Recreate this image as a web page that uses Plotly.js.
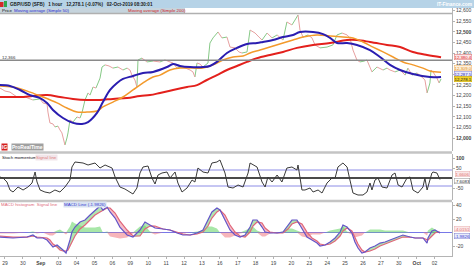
<!DOCTYPE html>
<html><head><meta charset="utf-8">
<script src="https://cdn.plot.ly/plotly-3.0.1.min.js"></script>
<style>html,body{margin:0;padding:0;background:#fff}#chart{width:474px;height:266px}</style>
</head><body><div id="chart"></div>
<script>
// ---- DATA (x = trading-day position, 0 = 29 Aug 00:00) ----
const dayLabels = ['29','30','Sep','03','04','05','06','09','10','11','12','13','16','17','18','19','20','23','24','25','26','27','30','Oct','02'];
const dayPos = [0,1,2,3,4,5,6,7,8,9,10,11,12,13,14,15,16,17,18,19,20,21,22,23,24];

const priceT = [-0.28,0,0.28,0.67,1.12,1.56,1.96,2.12,2.35,2.40,2.51,2.68,2.79,2.96,3.07,3.18,3.35,3.46,3.52,3.63,3.80,4.02,4.19,4.30,4.47,4.64,4.75,4.92,5.08,5.20,5.31,5.42,5.59,5.81,6.03,6.31,6.59,6.82,6.98,7.09,7.26,7.37,7.43,7.65,7.93,8.27,8.66,8.94,9.22,9.39,9.61,9.94,10.34,10.50,10.61,10.73,10.89,11.06,11.34,11.45,11.62,11.90,12.12,12.40,12.57,12.85,13.07,13.24,13.52,13.69,13.97,14.19,14.36,14.64,14.92,15.20,15.53,15.75,16.03,16.20,16.37,16.48,16.65,16.93,17.15,17.32,17.60,17.99,18.32,18.55,18.83,19.11,19.27,19.44,19.66,19.83,20.06,20.22,20.50,20.78,21.12,21.34,21.51,21.79,22.07,22.35,22.51,22.74,23.02,23.35,23.46,23.58,23.74,23.80,23.91,24.13,24.25,24.36];
const priceClose = [12235,12221,12216,12193,12193,12179,12184,12165,12160,12122,12071,12066,12052,12056,12038,12024,11967,12000,12024,12085,12075,12099,12094,12118,12179,12212,12202,12240,12235,12259,12282,12334,12344,12339,12329,12334,12320,12329,12320,12296,12273,12240,12367,12376,12358,12362,12358,12367,12358,12353,12329,12334,12320,12311,12287,12353,12348,12334,12353,12447,12471,12499,12471,12475,12428,12424,12405,12400,12405,12508,12494,12475,12461,12494,12471,12485,12461,12546,12532,12555,12579,12508,12475,12485,12471,12438,12424,12428,12438,12485,12494,12485,12471,12414,12367,12358,12362,12367,12311,12334,12320,12329,12320,12311,12320,12296,12329,12296,12306,12282,12273,12212,12259,12320,12311,12282,12259,12278];

const ma50T = [-0.28,0.28,0.84,1.40,1.96,2.35,2.68,3.24,3.80,4.30,4.64,5.14,5.47,5.87,6.26,6.59,7.15,7.71,8.27,9.05,9.39,9.78,10.34,11.06,11.45,11.84,12.40,12.96,13.52,14.08,14.41,14.97,15.53,16.09,16.48,17.21,17.77,18.16,18.55,19.11,19.66,20.39,20.95,21.51,22.07,22.79,23.74,24.36];
const ma50 = [12249,12245,12226,12202,12188,12165,12132,12094,12071,12066,12075,12118,12169,12226,12259,12278,12292,12306,12311,12334,12348,12339,12334,12334,12339,12358,12400,12424,12442,12447,12452,12461,12475,12485,12499,12499,12489,12471,12447,12447,12438,12414,12381,12344,12320,12301,12287,12287.5];

const ma100T = [-0.28,0.45,1.40,2.12,2.91,3.46,4.02,4.58,5.14,5.47,6.03,6.59,7.15,7.71,8.27,8.66,9.22,9.78,10.50,11.06,11.62,12.18,12.74,13.30,13.69,14.25,14.80,15.53,16.09,16.65,17.43,18.16,18.88,19.44,20.00,20.56,21.12,21.68,22.23,22.79,23.35,23.74,24.36];
const ma100 = [12245,12240,12216,12193,12165,12141,12122,12122,12127,12146,12169,12193,12226,12259,12287,12296,12320,12329,12329,12329,12344,12367,12381,12386,12400,12414,12428,12447,12461,12475,12485,12480,12475,12471,12452,12428,12405,12381,12358,12344,12329,12315,12309];

const ma200T = [-0.28,0.84,1.56,2.35,3.07,3.80,4.58,5.31,6.03,6.82,7.54,8.10,8.66,9.39,10.17,10.73,11.28,11.84,12.40,12.96,13.52,14.08,14.80,15.53,16.31,17.21,18.16,19.11,19.66,20.39,21.34,22.07,22.79,23.58,24.36];
const ma200 = [12193,12193,12198,12202,12193,12184,12179,12179,12184,12188,12198,12202,12212,12226,12240,12249,12273,12296,12320,12339,12358,12376,12391,12405,12424,12438,12447,12461,12461,12452,12438,12428,12405,12391,12380.4];

const stochT = [-0.28,-0.11,0.11,0.28,0.45,0.73,1.01,1.28,1.51,1.68,1.79,1.96,2.23,2.51,2.79,3.07,3.35,3.63,3.74,3.91,4.36,4.64,5.03,5.31,5.59,5.98,6.15,6.42,6.70,6.98,7.15,7.37,7.54,7.71,7.99,8.21,8.38,8.55,8.77,9.05,9.22,9.50,9.66,9.89,10.17,10.45,10.61,10.78,11.06,11.34,11.56,11.84,12.01,12.29,12.46,12.74,13.02,13.30,13.58,13.69,14.08,14.36,14.53,14.69,14.92,15.20,15.47,15.75,16.03,16.31,16.37,16.59,16.76,17.04,17.21,17.49,17.71,17.99,18.27,18.44,18.60,18.88,19.11,19.27,19.44,19.72,20.00,20.22,20.39,20.50,20.67,20.84,21.06,21.34,21.62,21.79,21.96,22.18,22.46,22.63,22.79,23.07,23.35,23.46,23.58,23.69,23.85,23.91,24.13,24.30];
const stochVal = [5,0,-20,-60,-70,-45,-60,-45,-25,30,-20,-60,-70,-75,-60,-70,-45,-10,55,80,75,65,75,50,65,50,5,-45,-55,-70,-80,-50,25,55,60,0,-30,15,25,30,0,30,-25,-70,-50,-10,-20,50,30,25,75,80,90,25,-45,-50,-35,-45,25,75,55,-20,-45,5,-20,15,-20,50,55,40,65,-60,-60,-50,-70,-60,-75,-25,0,0,55,75,55,-10,-75,-85,-85,-70,-25,-60,-10,0,-45,-50,15,25,-35,-45,0,5,-60,-75,-45,0,-60,-25,25,30,25,-7.6];

const macdT = [-0.28,0.45,1.23,1.56,1.79,2.12,2.35,2.51,2.68,2.91,3.07,3.24,3.41,3.52,3.63,3.74,3.91,4.19,4.47,4.75,5.03,5.31,5.47,5.70,5.87,6.15,6.42,6.82,7.15,7.54,7.82,8.10,8.38,8.83,9.22,9.61,9.94,10.34,10.73,11.06,11.34,11.56,11.84,12.01,12.29,12.57,12.85,13.13,13.41,13.69,13.85,14.08,14.36,14.53,14.80,15.20,15.53,15.81,16.03,16.31,16.59,16.87,17.15,17.43,17.60,17.88,18.16,18.44,18.72,18.88,19.11,19.38,19.55,19.72,19.94,20.11,20.39,20.67,20.95,21.23,21.51,21.90,22.23,22.63,22.91,23.35,23.58,23.63,23.85,24.02,24.19,24.30];
const macdLine = [-6.7,-8.1,-6.7,-3.7,-8.1,-8.1,-11.1,-15.6,-21.5,-18.5,-21.5,-25.9,-30.4,-21.5,-11.1,0.7,8.1,15.6,18.5,25.9,33.3,39.3,33.3,37.8,30.4,21.5,8.1,-3.7,-6.7,3.7,15.6,11.1,6.7,5.2,3.7,-0.7,-3.7,-3.7,-0.7,3.7,18.5,30.4,36.3,33.3,18.5,3.7,-3.7,-6.7,-3.7,8.1,18.5,18.5,8.1,0.7,-0.7,-0.7,0.7,11.1,18.5,18.5,6.7,-6.7,-11.1,-15.6,-20,-18.5,-14.1,-8.1,0.7,11.1,8.1,-0.7,-14.1,-23.0,-30.4,-28.9,-23.0,-20,-15.6,-14.1,-11.1,-6.7,-3.7,-6.7,-8.1,-8.1,-15.6,-8.1,2.2,3.7,0.7,-0.7];
const signalLine = [-5.2,-6.7,-6.7,-5.2,-6.7,-8.1,-8.1,-11.1,-17.0,-21.5,-25.9,-27.4,-27.4,-25.9,-20,-15.6,-5.2,5.2,11.1,18.5,25.9,30.4,33.3,36.3,36.3,28.9,17.0,3.7,-5.2,-5.2,5.2,9.6,9.6,5.2,3.7,0.7,-2.2,-3.7,-2.2,0.7,9.6,21.5,30.4,33.3,25.9,11.1,0.7,-5.2,-6.7,0.7,9.6,15.6,14.1,6.7,0.7,-0.7,-0.7,5.2,12.6,15.6,12.6,0.7,-8.1,-12.6,-17.0,-18.5,-17.0,-12.6,-5.2,2.2,6.7,2.2,-6.7,-17.0,-25.9,-28.9,-27.4,-24.4,-20,-17.0,-14.1,-9.6,-6.7,-6.7,-8.1,-8.1,-11.1,-11.1,-5.2,-0.7,0.7,0.7];

const priceTicks = [12000,12050,12100,12150,12200,12250,12300,12350,12400,12450,12500,12550,12600];
const refLevel = 12366;

// ---- BUILD ----
const upX=[],upY=[],dnX=[],dnY=[];
for(let i=1;i<Math.min(priceT.length,priceClose.length);i++){
  const up = priceClose[i]>=priceClose[i-1];
  (up?upX:dnX).push(priceT[i-1],priceT[i],null);
  (up?upY:dnY).push(priceClose[i-1],priceClose[i],null);
}
const hist = macdLine.map((v,i)=>v-signalLine[i]);
const histPos = hist.map(v=>Math.max(v,0));
const histNeg = hist.map(v=>Math.min(v,0));
const bandHi = macdLine.map((v,i)=>Math.max(v,signalLine[i]));
const bandLo = macdLine.map((v,i)=>Math.min(v,signalLine[i]));

const noLine = {width:0,color:'rgba(0,0,0,0)'};
const traces = [
  {x:upX,y:upY,type:'scatter',mode:'lines',line:{color:'#86c986',width:1},yaxis:'y',hoverinfo:'skip'},
  {x:dnX,y:dnY,type:'scatter',mode:'lines',line:{color:'#e7a0a0',width:1},yaxis:'y',hoverinfo:'skip'},
  {x:ma200T,y:ma200,type:'scatter',mode:'lines',line:{color:'#e3201c',width:2,shape:'spline'},yaxis:'y'},
  {x:ma100T,y:ma100,type:'scatter',mode:'lines',line:{color:'#f39a2c',width:1.5,shape:'spline'},yaxis:'y'},
  {x:ma50T,y:ma50,type:'scatter',mode:'lines',line:{color:'#2a1db0',width:2,shape:'spline'},yaxis:'y'},

  {x:stochT,y:stochVal,type:'scatter',mode:'lines',line:{color:'#3a3a3a',width:1},yaxis:'y2'},

  {x:macdT,y:macdLine,type:'scatter',mode:'lines',line:noLine,yaxis:'y3'},
  {x:macdT,y:bandHi,type:'scatter',mode:'lines',line:noLine,fill:'tonexty',fillcolor:'rgba(236,110,130,0.45)',yaxis:'y3'},
  {x:macdT,y:macdLine,type:'scatter',mode:'lines',line:noLine,yaxis:'y3'},
  {x:macdT,y:bandLo,type:'scatter',mode:'lines',line:noLine,fill:'tonexty',fillcolor:'rgba(80,200,80,0.45)',yaxis:'y3'},
  {x:macdT,y:histPos,type:'scatter',mode:'lines',line:noLine,fill:'tozeroy',fillcolor:'rgba(110,215,110,0.6)',yaxis:'y3'},
  {x:macdT,y:histNeg,type:'scatter',mode:'lines',line:noLine,fill:'tozeroy',fillcolor:'rgba(240,120,130,0.55)',yaxis:'y3'},
  {x:macdT,y:signalLine,type:'scatter',mode:'lines',line:{color:'#e0667a',width:1.2},yaxis:'y3'},
  {x:macdT,y:macdLine,type:'scatter',mode:'lines',line:{color:'#6454c8',width:1.2},yaxis:'y3'}
];

const W=452, H=256;
const px=v=>v/W, py=v=>1-v/H;
const FONT='Liberation Sans, Arial, sans-serif';
function ann(text,x,y,o){
  o=o||{};
  return Object.assign({xref:'paper',yref:'paper',x:px(x),y:py(y),xanchor:'left',yanchor:'middle',
    text:text,showarrow:false,borderpad:0,font:{family:FONT,size:o.size||5,color:o.color||'#222'}},o.extra||{});
}
const axBase = {showgrid:false,zeroline:false,showline:true,linecolor:'#b4b4b4',linewidth:1,
  ticks:'outside',ticklen:2,tickcolor:'#b4b4b4',side:'right',anchor:'x',fixedrange:true,
  tickfont:{family:FONT,size:5,color:'#444'}};

const layout = {
  width:474,height:266,margin:{l:0,r:22,t:0,b:10,pad:0},
  paper_bgcolor:'#fff',plot_bgcolor:'#fff',showlegend:false,hovermode:false,
  font:{family:FONT,size:5},
  xaxis:{domain:[0,1],range:[-0.279,24.972],anchor:'y3',showgrid:false,zeroline:false,showline:true,
    linecolor:'#b4b4b4',ticks:'outside',ticklen:2,tickcolor:'#b4b4b4',fixedrange:true,
    tickvals:dayPos,ticktext:dayLabels.map(s=>(s==='Sep'||s==='Oct')?'<b>'+s+'</b>':s),
    tickfont:{family:FONT,size:5,color:'#444'},tickangle:0},
  yaxis:Object.assign({},axBase,{domain:[py(151),py(8)],range:[11938.8,12611.8],
    tickvals:priceTicks,ticktext:priceTicks.map(v=>{const s=String(v).replace(/(\d{2})(\d{3})/,'$1,$2');return (v%500===0)?'<b>'+s+'</b>':s;})}),
  yaxis2:Object.assign({},axBase,{domain:[py(200),py(154)],range:[-110,120],
    tickvals:[100,50,-50],ticktext:['<b>100</b>','50','-50']}),
  yaxis3:Object.assign({},axBase,{domain:[0,py(202)],range:[-34.8,45.2],
    tickvals:[40,20,-20],ticktext:['40','20','-20']}),
  shapes:[
    // header
    {type:'rect',xref:'paper',yref:'paper',x0:0,x1:474/W,y0:py(8),y1:1,fillcolor:'#b6d3e7',line:{width:0},layer:'above'},
    {type:'rect',xref:'paper',yref:'paper',x0:0,x1:px(185),y0:py(13),y1:py(8),fillcolor:'#c6d4dd',line:{width:0},layer:'above'},
    {type:'rect',xref:'paper',yref:'paper',x0:px(185),x1:1,y0:py(13),y1:py(8),fillcolor:'#ffffff',line:{width:0},layer:'above'},
    {type:'line',xref:'paper',yref:'paper',x0:0,x1:1,y0:py(13.5),y1:py(13.5),line:{color:'#b0b0b0',width:1.5},layer:'above'},
    {type:'rect',xref:'paper',yref:'paper',x0:0,x1:px(3.5),y0:py(7),y1:py(2),fillcolor:'#d42a2a',line:{width:0},layer:'above'},
    {type:'rect',xref:'paper',yref:'paper',x0:px(4),x1:px(7),y0:py(7),y1:py(1),fillcolor:'#2fa84f',line:{width:0},layer:'above'},
    // reference level
    {type:'line',xref:'paper',yref:'y',x0:0,x1:1,y0:refLevel,y1:refLevel,line:{color:'#8a8a8a',width:1.5}},
    // panel separators
    {type:'line',xref:'paper',yref:'paper',x0:0,x1:1,y0:py(152.5),y1:py(152.5),line:{color:'#c4c4c4',width:2.5}},
    {type:'line',xref:'paper',yref:'paper',x0:0,x1:1,y0:py(201),y1:py(201),line:{color:'#c4c4c4',width:2.5}},
    // stoch levels
    {type:'line',xref:'paper',yref:'y2',x0:0,x1:1,y0:40,y1:40,line:{color:'#8c8ce6',width:1},layer:'below'},
    {type:'line',xref:'paper',yref:'y2',x0:0,x1:1,y0:-40,y1:-40,line:{color:'#8c8ce6',width:1},layer:'below'},
    {type:'line',xref:'paper',yref:'y2',x0:0,x1:1,y0:0,y1:0,line:{color:'#4a4a4a',width:2},layer:'below'},
    // macd zero
    {type:'line',xref:'paper',yref:'y3',x0:0,x1:1,y0:0,y1:0,line:{color:'#7878e8',width:1},layer:'below'}
  ],
  annotations:[
    ann('<b>GBP/USD (SFB)   1 hour   12,278.1 (-0.07%)   02-Oct-2019 08:30:01</b>',9,4,{size:4.6,color:'#1a1a1a'}),
    Object.assign(ann('<b>IT-Finance.com</b>',473,4,{size:4.8,color:'#ffffff'}),{xanchor:'right'}),
    ann('Price',1,10.6,{size:4.4,color:'#111'}),
    ann('Moving average (Simple 50)',13,10.6,{size:4.4,color:'#2a2ad0'}),
    ann('Moving average (Simple 200)',127,10.6,{size:4.4,color:'#d02020'}),
    ann('12,366',1,57.5,{size:4.4,color:'#333'}),
    ann('<b>IG</b>',1,147,{size:5,color:'#ffffff',extra:{bgcolor:'#d42020'}}),
    ann('<b>ProRealTime</b>',11,147,{size:5,color:'#ffffff',extra:{bgcolor:'#a0a0a0'}}),
    ann('Stoch momentum',1,157.5,{size:4.4,color:'#111'}),
    ann('Signal line',35,157.5,{size:4.4,color:'#e08080',extra:{bgcolor:'#f1e6ea'}}),
    ann('MACD histogram  Signal line',0,204.5,{size:4.4,color:'#e06a7a'}),
    ann('MACD Line (-1.9826)',63,204.5,{size:4.4,color:'#3a3ad0',extra:{bgcolor:'#d8e2f2'}}),
    ann('12,380.4',454,57,{size:4.3,color:'#e02020',extra:{bgcolor:'#fbe6e6',bordercolor:'#e07070',borderwidth:0.5}}),
    ann('12,309.0',454,67.5,{size:4.3,color:'#e08a10',extra:{bgcolor:'#fdf1de',bordercolor:'#f0b060',borderwidth:0.5}}),
    ann('12,287.5',454,73.5,{size:4.3,color:'#2a2ab0',extra:{bgcolor:'#e8e8fa',bordercolor:'#8080d0',borderwidth:0.5}}),
    ann('12,278.1',454,79.3,{size:4.3,color:'#111',extra:{bgcolor:'#f2d22a',bordercolor:'#c8a800',borderwidth:0.5}}),
    ann('1.6606',455,174,{size:4.4,color:'#e07070',extra:{bgcolor:'#fbe8e8',bordercolor:'#e8b0b0',borderwidth:0.5}}),
    ann('-7.6083',454,181,{size:4.4,color:'#222',extra:{bgcolor:'#ffffff',bordercolor:'#909090',borderwidth:0.5}}),
    ann('-4.0151',454,229,{size:4.4,color:'#e07070',extra:{bgcolor:'#fbe8e8',bordercolor:'#e8b0b0',borderwidth:0.5}}),
    ann('-1.9826',454,236,{size:4.4,color:'#3a3ad0',extra:{bgcolor:'#e8ecfa',bordercolor:'#8080d0',borderwidth:0.5}})
  ]
};
Plotly.newPlot('chart',traces,layout,{displayModeBar:false,staticPlot:true});
</script>
</body></html>
